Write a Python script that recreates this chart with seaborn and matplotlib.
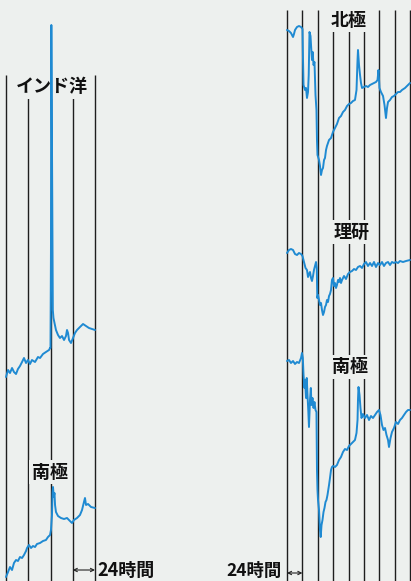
import matplotlib
matplotlib.use("Agg")
import matplotlib.pyplot as plt
import seaborn as sns
import pandas as pd

# ---------------- data (hours since start, relative field deviation, up = positive) ----------------
indian_h = [0, 2.2, 4.3, 6.5, 8.6, 10.8, 12.9, 15.1, 17.3, 19.4, 21.6, 23.7, 25.9, 28.0, 31.3, 34.5,
            36.7, 39.9, 43.1, 46.4, 47.5, 48.0, 48.5, 48.9, 49.9, 50.5, 51.2, 53.9, 56.1, 58.2, 60.4,
            62.6, 64.7, 65.8, 66.9, 68.0, 70.1, 72.3, 74.4, 76.6, 79.8, 83.1, 86.3, 89.5, 92.8, 96.0]
indian_v = [0, 7, 4, 9, 5, 3, 8, 11, 15, 19, 14, 17, 13, 17, 15, 20,
            19, 23, 25, 27, 29, 29, 127, 352, 177, 67, 59, 47, 42, 39, 41,
            37, 41, 47, 44, 37, 34, 39, 44, 47, 50, 53, 51, 49, 48, 47]

spole_l_h = [0, 2.2, 4.3, 6.5, 8.6, 10.8, 12.9, 15.1, 17.3, 19.4, 21.6, 22.7, 24.8, 27.0, 29.1, 31.3,
             33.4, 36.7, 39.9, 43.1, 45.3, 47.5, 48.5, 49.6, 50.2, 50.7, 51.5, 52.3, 52.9, 53.9, 56.1,
             59.3, 62.6, 65.8, 69.0, 71.2, 73.3, 76.6, 79.8, 82.0, 84.1, 85.2, 86.3, 88.5, 91.7, 96.0]
spole_l_v = [0, 5, 10, 7, 14, 17, 16, 20, 19, 22, 26, 29, 32, 29, 31, 30,
             33, 34, 36, 37, 40, 42, 47, 62, 85, 90, 80, 84, 72, 65, 61,
             59, 58, 59, 56, 54, 57, 59, 62, 67, 75, 79, 72, 73, 70, 69]

npole_h = [0, 3.1, 6.2, 9.4, 10.9, 12.5, 15.6, 18.7, 21.9, 24.2, 25.0, 25.8, 28.1, 29.7, 31.2, 32.8,
           33.9, 35.1, 36.7, 37.5, 39.0, 40.1, 41.4, 42.9, 44.5, 46.0, 46.8, 47.6, 50.0, 51.5, 53.1,
           54.6, 56.2, 57.8, 59.3, 60.9, 62.4, 65.6, 68.7, 71.8, 74.9, 78.0, 81.2, 84.3, 87.4, 90.5,
           93.7, 96.8, 99.9, 103.0, 106.1, 108.5, 110.1, 110.8, 112.4, 114.0, 115.5, 117.1, 120.2,
           123.3, 126.4, 129.6, 132.7, 135.8, 138.9, 141.3, 142.8, 144.4, 146.7, 149.9, 152.2, 154.5,
           156.1, 157.7, 160.8, 163.9, 167.0, 170.1, 173.3, 176.4, 179.5, 184.2, 188.9, 192.0]
npole_v = [0, -1, -3, -7, -4, 0, 3, 4, 3, 1, -30, -55, -60, -58, -68, -62,
           -45, -2, -6, -15, -30, -22, -35, -32, -65, -80, -110, -125, -130, -136, -145,
           -140, -138, -130, -128, -120, -116, -110, -108, -102, -98, -94, -88, -86, -82, -80,
           -76, -74, -73, -71, -70, -60, -30, -20, -35, -45, -53, -58, -57,
           -56, -57, -55, -54, -53, -52, -50, -40, -58, -62, -66, -75, -88,
           -78, -72, -70, -67, -66, -64, -62, -62, -60, -58, -55, -53]

riken_h = [0, 3.1, 6.2, 9.4, 12.5, 15.6, 18.7, 21.9, 24.2, 26.5, 28.9, 31.2, 32.8, 34.3, 35.9, 37.5,
           39.0, 40.6, 42.1, 43.7, 45.3, 46.5, 47.3, 48.4, 50.0, 51.5, 53.1, 54.6, 56.2, 57.8, 59.3,
           60.9, 62.4, 64.0, 65.6, 67.1, 68.7, 70.2, 71.8, 73.4, 74.9, 76.5, 78.0, 79.6, 81.2, 82.7,
           84.3, 85.9, 89.0, 92.1, 95.2, 98.3, 101.5, 104.6, 107.7, 110.8, 114.0, 117.1, 120.2, 123.3,
           126.4, 129.6, 132.7, 135.8, 138.9, 142.1, 145.2, 148.3, 151.4, 154.5, 157.7, 160.8, 163.9,
           167.0, 170.1, 173.3, 176.4, 181.1, 185.8, 192.0]
riken_v = [0, 3, 4, 3, -1, -2, 0, -1, -3, -9, -15, -17, -24, -21, -19, -25,
           -28, -23, -17, -13, -9, -15, -45, -42, -47, -52, -50, -57, -62, -59, -54,
           -52, -47, -49, -43, -41, -37, -27, -25, -33, -30, -35, -32, -27, -29, -25,
           -30, -27, -23, -26, -21, -19, -18, -16, -17, -14, -13, -15, -11, -9,
           -13, -10, -13, -9, -14, -10, -12, -9, -13, -10, -9, -12, -9,
           -10, -9, -10, -8, -9, -8, -7]

spole_r_h = [0, 3.1, 6.2, 9.4, 12.5, 15.6, 18.7, 21.9, 23.4, 24.7, 25.8, 27.3, 28.1, 29.7, 30.8, 32.0,
             33.2, 34.3, 35.9, 37.2, 38.2, 39.8, 41.4, 42.9, 44.5, 46.0, 46.8, 47.6, 48.4, 50.0, 51.5,
             52.6, 53.9, 55.4, 57.0, 58.5, 60.1, 61.6, 63.2, 65.6, 67.1, 68.7, 70.2, 71.8, 74.9, 78.0,
             81.2, 84.3, 87.4, 90.5, 93.7, 96.8, 99.9, 103.0, 106.1, 108.5, 110.1, 110.8, 111.6, 113.2,
             114.7, 116.3, 118.6, 121.8, 124.9, 128.0, 131.1, 134.2, 137.4, 140.5, 143.6, 145.9, 148.3,
             150.6, 153.0, 155.3, 157.7, 159.2, 161.6, 163.9, 167.0, 170.1, 173.3, 176.4, 179.5, 182.6,
             185.8, 188.9, 192.0]
spole_r_v = [0, 1, -2, 0, -3, -1, -2, 3, 8, 3, -14, -27, -19, -37, -17, -34,
             -49, -66, -39, -27, -44, -37, -47, -41, -49, -51, -109, -129, -139, -149, -169,
             -176, -164, -159, -151, -147, -141, -139, -134, -124, -117, -109, -106, -105, -106, -104,
             -99, -96, -91, -88, -89, -85, -83, -81, -79, -72, -59, -39, -26, -34,
             -47, -57, -53, -57, -54, -59, -55, -57, -54, -51, -49, -54, -64,
             -69, -67, -74, -79, -86, -77, -71, -67, -61, -63, -59, -57, -54,
             -51, -49, -49]

left_days = [0, 24, 48, 72, 96]
right_days = [0, 24, 48, 72, 96, 120, 144, 168, 192]

# ---------------- style ----------------
BG = "#edf0ee"
BLUE = "#1f8ad2"
sns.set_theme(style="white")
plt.rcParams["font.family"] = ["Noto Sans CJK JP", "DejaVu Sans"]

W, H = 411, 581
fig = plt.figure(figsize=(W / 100, H / 100), dpi=100, facecolor=BG)

axL = fig.add_axes([6 / W, 0, 89 / W, 1])
axR = fig.add_axes([287 / W, 0, 123 / W, 1])
for ax, xmax in ((axL, 96), (axR, 192)):
    ax.set_xlim(0, xmax)
    ax.set_ylim(0, H)
    ax.set_axis_off()
    ax.patch.set_alpha(0)


def trace(ax, h, v, base):
    df = pd.DataFrame({"hour": h, "val": [x + base for x in v]})
    sns.lineplot(data=df, x="hour", y="val", ax=ax, sort=False, estimator=None,
                 color=BLUE, lw=1.4, zorder=4, clip_on=False)


# vertical day lines
axL.vlines(left_days, 0, 506, color="#1e1e1e", lw=1.0, zorder=1, clip_on=False)
axR.vlines(right_days, 0, 571, color="#1e1e1e", lw=1.0, zorder=1, clip_on=False)

trace(axL, indian_h, indian_v, 204)
trace(axL, spole_l_h, spole_l_v, 4)
trace(axR, npole_h, npole_v, 551)
trace(axR, riken_h, riken_v, 328)
trace(axR, spole_r_h, spole_r_v, 220)

lab = dict(ha="center", va="center", fontsize=13, fontweight="bold", color="#111111", zorder=3,
           bbox=dict(boxstyle="square,pad=0.15", fc=BG, ec="none"))
axL.text(49.1, 494.5, "インド洋", **lab)
axL.text(47.5, 109, "南極", **lab)
axR.text(96, 561, "北極", **lab)
axR.text(101.5, 349, "理研", **lab)
axR.text(98.3, 214, "南極", **lab)

# 24 hour scale markers
arr = dict(arrowstyle="<->", lw=0.8, color="#222222", mutation_scale=6,
           shrinkA=0, shrinkB=0)
axL.annotate("", xy=(72, 11), xytext=(96, 11), arrowprops=arr, annotation_clip=False)
axL.text(98.5, 11, "24時間", ha="left", va="center", fontsize=13, fontweight="bold",
         color="#111111")
axR.annotate("", xy=(0, 8), xytext=(24, 8), arrowprops=arr, annotation_clip=False)
axR.text(-9, 10, "24時間", ha="right", va="center", fontsize=12.5, fontweight="bold",
         color="#111111")

fig.savefig("out.png", dpi=100, facecolor=BG)
